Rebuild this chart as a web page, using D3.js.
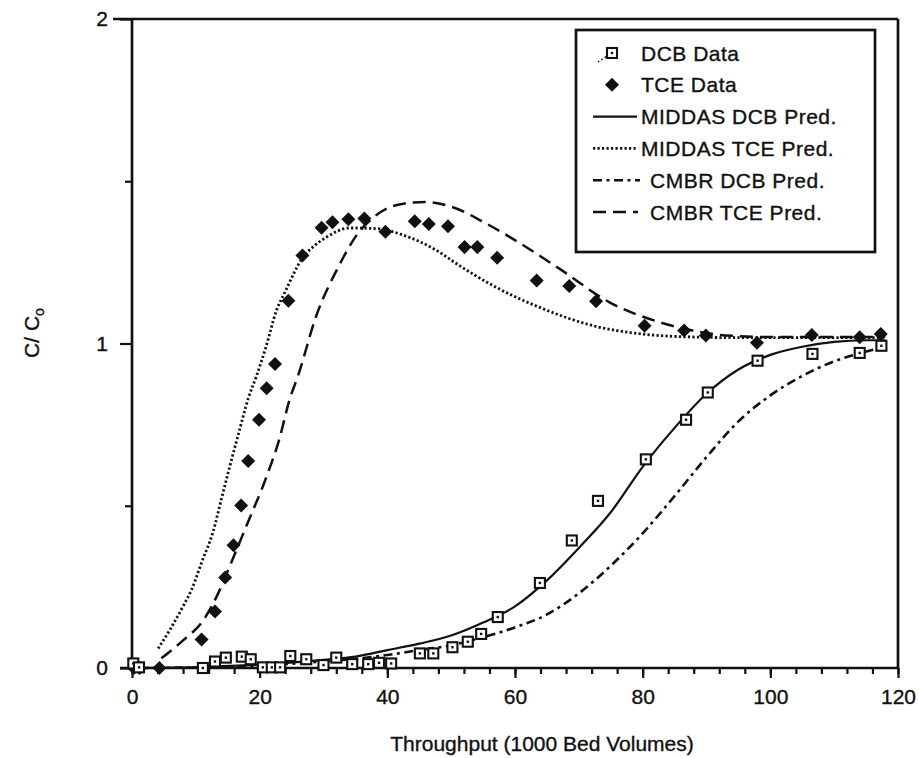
<!DOCTYPE html>
<html>
<head>
<meta charset="utf-8">
<script src="https://cdn.jsdelivr.net/npm/d3@7"></script>
<style>
  body { margin: 0; background: #fff; }
  text { font-family: "Liberation Sans", Arial, sans-serif; fill: #111; stroke: #111; stroke-width: 0.35px; }
</style>
</head>
<body>
<div id="chart"></div>
<script>
const width = 919
const height = 758

// data: [throughput (1000 BV), C/Co]
const dcbData = [[0.2,0.014],[1.1,0.002],[11.1,0],[13,0.02],[14.7,0.032],[17.2,0.035],[18.6,0.027],
  [20.5,0.002],[21.9,0.002],[23.2,0.002],[24.8,0.037],[27.3,0.027],[30,0.009],[32,0.032],[34.5,0.012],
  [37,0.012],[38.7,0.016],[40.6,0.014],[45.1,0.045],[47.2,0.045],[50.2,0.064],[52.6,0.081],[54.7,0.105],
  [57.3,0.157],[63.9,0.262],[68.9,0.393],[73,0.515],[80.5,0.643],[86.8,0.765],[90.2,0.849],[98,0.947],
  [106.6,0.968],[114,0.971],[117.4,0.993]]

const tceData = [[0.3,0],[1.2,0],[4.3,0],[10.9,0.088],[13,0.174],[14.6,0.279],[15.9,0.378],[17.1,0.501],
  [18.2,0.638],[19.9,0.765],[21.1,0.862],[22.4,0.937],[24.5,1.132],[26.7,1.271],[29.7,1.357],[31.4,1.374],
  [33.9,1.383],[36.4,1.385],[39.7,1.344],[44.3,1.377],[46.5,1.368],[49.5,1.361],[52.1,1.297],[54.1,1.297],
  [57.2,1.264],[63.4,1.194],[68.5,1.177],[72.7,1.13],[80.3,1.055],[86.5,1.04],[89.9,1.025],[97.9,1.002],
  [106.5,1.026],[114,1.019],[117.3,1.029]]

const middasDcb = [[0,0],[10,0.003],[20,0.01],[30,0.025],[35,0.035],[40,0.055],[45,0.075],[50,0.1],
  [55,0.14],[60,0.19],[65,0.27],[70,0.37],[75,0.48],[80,0.62],[85,0.74],[90,0.845],[95,0.92],[100,0.965],
  [105,0.99],[110,1.005],[115,1.01],[118,1.01]]

const middasTce = [[4.1,0.06],[6,0.12],[8,0.19],[9.3,0.24],[11,0.33],[12.7,0.42],[14,0.52],[15.3,0.62],
  [16.8,0.73],[18.2,0.83],[19.5,0.9],[21,0.99],[22.6,1.1],[24,1.16],[26.8,1.266],[28.5,1.3],[30.5,1.328],
  [34.1,1.356],[38.3,1.354],[42.5,1.334],[47.7,1.287],[51.3,1.24],[56.5,1.179],[64.4,1.107],[72.2,1.055],
  [80,1.029],[87.8,1.02],[95,1.018],[105,1.018],[118,1.018]]

const cmbrDcb = [[0,0],[10,0.002],[20,0.008],[30,0.02],[40,0.04],[45,0.055],[50,0.07],[55,0.095],
  [60,0.125],[65,0.165],[70,0.23],[75,0.315],[80,0.415],[85,0.53],[90,0.65],[95,0.76],[100,0.84],
  [105,0.9],[110,0.945],[115,0.975],[118,0.99]]

const cmbrTce = [[4.6,0.03],[8,0.085],[11.2,0.148],[13.5,0.23],[15.3,0.313],[17.9,0.437],[21.1,0.591],
  [23,0.7],[24.7,0.828],[26,0.9],[28.9,1.087],[32.3,1.235],[35.2,1.334],[38.3,1.396],[42.5,1.431],
  [46.1,1.436],[50.8,1.416],[55,1.375],[59.2,1.328],[67,1.23],[74.8,1.127],[82.6,1.066],[87.8,1.04],
  [93,1.025],[100,1.02],[110,1.02],[118,1.02]]

const xTicks = [0, 20, 40, 60, 80, 100, 120]
const xMinor = d3.range(0, 121, 4)
const yTicks = [0, 1, 2]
const yMinor = [0.5, 1.5]

const legendItems = ["DCB Data", "TCE Data", "MIDDAS DCB Pred.", "MIDDAS TCE Pred.", "CMBR DCB Pred.", "CMBR TCE Pred."]

var x = d3.scaleLinear().domain([0, 120]).range([132, 898])
var y = d3.scaleLinear().domain([0, 2]).range([668, 19])

var svg = d3.select("#chart").append("svg")
  .attr("width", width)
  .attr("height", height)

// dash styles for the 4 prediction curves
const styles = {
  solid:   { dash: null, w: 2.2 },
  dotted:  { dash: "2.2,2.3", w: 2.8 },
  dashdot: { dash: "9,4.5,3,4.5", w: 2.6 },
  dashed:  { dash: "13,7", w: 2.5 }
}

var line = d3.line()
  .x(d => x(d[0]))
  .y(d => y(d[1]))
  .curve(d3.curveMonotoneX)

const curves = [[middasDcb, "solid"], [middasTce, "dotted"], [cmbrDcb, "dashdot"], [cmbrTce, "dashed"]]
curves.forEach(c => {
  svg.append("path")
    .datum(c[0])
    .attr("d", line)
    .attr("fill", "none")
    .attr("stroke", "#111")
    .attr("stroke-width", styles[c[1]].w)
    .attr("stroke-dasharray", styles[c[1]].dash)
})

// frame: top and right
svg.append("line").attr("x1", 113).attr("x2", 898).attr("y1", y(2)).attr("y2", y(2))
  .attr("stroke", "#111").attr("stroke-width", 2.7)
svg.append("line").attr("x1", 898).attr("x2", 898).attr("y1", y(2)).attr("y2", y(0))
  .attr("stroke", "#111").attr("stroke-width", 2.7)

// axes
var xAxis = svg.append("g").attr("transform", "translate(0," + y(0) + ")")
  .call(d3.axisBottom(x).tickValues(xTicks).tickSize(10).tickPadding(11).tickFormat(d3.format("d")))
svg.append("g").attr("transform", "translate(0," + y(0) + ")")
  .call(d3.axisBottom(x).tickValues(xMinor).tickSize(6).tickFormat(""))
  .select(".domain").remove()

var yAxis = svg.append("g").attr("transform", "translate(" + x(0) + ",0)")
  .call(d3.axisLeft(y).tickValues(yTicks).tickSize(12).tickPadding(12).tickFormat(d3.format("d")))
svg.append("g").attr("transform", "translate(" + x(0) + ",0)")
  .call(d3.axisLeft(y).tickValues(yMinor).tickSize(7).tickFormat(""))
  .select(".domain").remove()

svg.selectAll(".domain").attr("stroke", "#111").attr("stroke-width", 2.7)
xAxis.select(".domain").attr("d", "M" + 120 + ",0H898")
yAxis.select(".domain").attr("d", "M0," + y(2) + "V" + y(0))
svg.selectAll(".tick line").attr("stroke", "#111").attr("stroke-width", 2.2)
svg.selectAll(".tick text").style("font-size", "21px").attr("fill", "#111")

// markers
var diamond = d3.symbol().type(d3.symbolDiamond2).size(125)
svg.selectAll(".tce")
  .data(tceData)
  .enter()
  .append("path")
  .attr("class", "tce")
  .attr("d", diamond)
  .attr("transform", d => "translate(" + x(d[0]) + "," + y(d[1]) + ")")
  .attr("fill", "#111")

var sq = svg.selectAll(".dcb")
  .data(dcbData)
  .enter()
  .append("g")
  .attr("class", "dcb")
  .attr("transform", d => "translate(" + x(d[0]) + "," + y(d[1]) + ")")
sq.append("rect").attr("x", -5).attr("y", -5).attr("width", 10).attr("height", 10)
  .attr("fill", "#fff").attr("stroke", "#111").attr("stroke-width", 2.1)
sq.append("rect").attr("x", -1.2).attr("y", -1.2).attr("width", 2.4).attr("height", 2.4).attr("fill", "#111")

// legend
svg.append("rect").attr("x", 576).attr("y", 30).attr("width", 299).attr("height", 222)
  .attr("fill", "#fff").attr("stroke", "#111").attr("stroke-width", 2.7)

var legendY = d3.scaleLinear().domain([0, 5]).range([53, 212])
var leg = svg.selectAll(".leg")
  .data(legendItems)
  .enter()
  .append("g")
  .attr("class", "leg")
  .attr("transform", (d, i) => "translate(0," + legendY(i) + ")")

leg.append("text")
  .attr("x", (d, i) => i >= 4 ? 650 : 641)
  .attr("y", 7.5)
  .style("font-size", "21px")
  .style("letter-spacing", "0.5px")
  .text(d => d)

var l0 = d3.select(leg.nodes()[0])
l0.append("path").attr("d", "M598,9L607,3").attr("stroke", "#111").attr("stroke-width", 1.5)
  .attr("stroke-dasharray", "1.5,2.5").attr("fill", "none")
l0.append("rect").attr("x", 607).attr("y", -5).attr("width", 10).attr("height", 10)
  .attr("fill", "#fff").attr("stroke", "#111").attr("stroke-width", 2.1)
l0.append("rect").attr("x", 610.8).attr("y", -1.2).attr("width", 2.4).attr("height", 2.4).attr("fill", "#111")

d3.select(leg.nodes()[1]).append("path").attr("d", diamond)
  .attr("transform", "translate(612,0)").attr("fill", "#111")

const legendLines = [[2, "solid", 637], [3, "dotted", 637], [4, "dashdot", 640], [5, "dashed", 638]]
legendLines.forEach(l => {
  d3.select(leg.nodes()[l[0]]).append("line")
    .attr("x1", 593).attr("x2", l[2]).attr("y1", 0).attr("y2", 0)
    .attr("stroke", "#111").attr("stroke-width", styles[l[1]].w)
    .attr("stroke-dasharray", styles[l[1]].dash)
})

// axis titles
svg.append("text")
  .attr("x", 542)
  .attr("y", 751)
  .attr("text-anchor", "middle")
  .style("font-size", "21px")
  .text("Throughput (1000 Bed Volumes)")

var yl = svg.append("text")
  .attr("transform", "translate(39,333) rotate(-90)")
  .attr("text-anchor", "middle")
  .style("font-size", "21px")
yl.append("tspan").text("C/ C")
yl.append("tspan").attr("dy", 5).style("font-size", "14px").text("o")
</script>
</body>
</html>
